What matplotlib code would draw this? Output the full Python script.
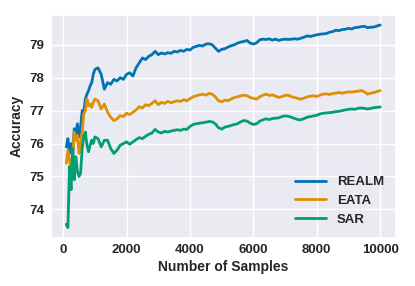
import matplotlib
matplotlib.use("Agg")
import matplotlib.pyplot as plt
import seaborn as sns

# sample counts: finer steps early on where the curves move fast
samples = list(range(100, 1001, 50)) + list(range(1100, 10001, 100))

realm = [75.9, 76.15, 75.7, 76.0, 75.6, 76.45, 76.3, 76.6, 76.2, 76.5,
         77.0, 76.95, 77.35, 77.5, 77.6, 77.75, 77.85, 78.1, 78.25,
         78.3, 78.1, 77.65, 77.85, 77.8, 77.95, 77.9, 78.0, 77.95, 78.1,
         78.15, 78.05, 78.3, 78.45, 78.6, 78.55, 78.65, 78.7, 78.8, 78.7,
         78.75, 78.72, 78.76, 78.74, 78.8, 78.78, 78.83, 78.8, 78.86, 78.84,
         78.92, 78.95, 78.98, 78.96, 79.02, 79.03, 79.0, 78.9, 78.8, 78.86,
         78.88, 78.93, 78.97, 79.0, 79.05, 79.08, 79.1, 79.13, 79.05, 79.02,
         79.06, 79.15, 79.17, 79.16, 79.18, 79.14, 79.17, 79.13, 79.16, 79.17,
         79.16, 79.17, 79.18, 79.17, 79.2, 79.23, 79.27, 79.25, 79.28, 79.3,
         79.32, 79.33, 79.34, 79.38, 79.4, 79.44, 79.43, 79.46, 79.47, 79.5,
         79.48, 79.52, 79.53, 79.55, 79.56, 79.52, 79.53, 79.54, 79.57, 79.6]

eata = [75.4, 75.8, 75.5, 75.2, 75.65, 76.35, 76.1, 76.25, 75.7, 76.0,
        76.35, 76.9, 77.0, 77.35, 77.15, 77.2, 77.1, 77.25, 77.35,
        77.3, 77.05, 77.2, 76.95, 76.8, 76.7, 76.75, 76.85, 76.82, 76.92,
        76.88, 76.95, 77.02, 77.12, 77.08, 77.18, 77.15, 77.22, 77.3, 77.18,
        77.25, 77.22, 77.28, 77.24, 77.27, 77.3, 77.28, 77.33, 77.3, 77.36,
        77.42, 77.45, 77.48, 77.5, 77.47, 77.52, 77.5, 77.42, 77.3, 77.27,
        77.32, 77.3, 77.35, 77.4, 77.42, 77.45, 77.47, 77.45, 77.4, 77.37,
        77.35, 77.42, 77.47, 77.5, 77.46, 77.48, 77.44, 77.4, 77.43, 77.46,
        77.47, 77.42, 77.4, 77.37, 77.35, 77.38, 77.42, 77.44, 77.45, 77.43,
        77.47, 77.5, 77.51, 77.49, 77.52, 77.53, 77.55, 77.53, 77.55, 77.57,
        77.56, 77.58, 77.59, 77.61, 77.57, 77.5, 77.53, 77.55, 77.58, 77.61]

sar = [73.55, 73.45, 75.3, 74.6, 75.85, 74.9, 75.6, 75.15, 75.0, 75.1,
       75.85, 76.2, 76.35, 75.95, 75.75, 75.95, 76.1, 76.0, 76.2,
       76.15, 75.9, 76.1, 76.1, 75.85, 75.7, 75.8, 75.95, 76.0, 76.05,
       75.98, 76.05, 76.12, 76.18, 76.15, 76.22, 76.28, 76.32, 76.43, 76.35,
       76.32, 76.37, 76.35, 76.38, 76.4, 76.42, 76.4, 76.44, 76.43, 76.52,
       76.58, 76.6, 76.62, 76.63, 76.65, 76.67, 76.66, 76.6, 76.48, 76.44,
       76.5, 76.52, 76.55, 76.58, 76.6, 76.66, 76.7, 76.68, 76.62, 76.58,
       76.6, 76.68, 76.72, 76.75, 76.73, 76.76, 76.77, 76.78, 76.82, 76.84,
       76.83, 76.8, 76.76, 76.73, 76.72, 76.76, 76.8, 76.82, 76.84, 76.86,
       76.9, 76.92, 76.93, 76.94, 76.95, 76.97, 76.98, 77.0, 77.02, 77.04,
       77.05, 77.04, 77.07, 77.08, 77.07, 77.05, 77.07, 77.09, 77.1, 77.11]

sns.set_theme(style="darkgrid")
plt.rcParams["font.family"] = ["Liberation Sans", "DejaVu Sans"]
plt.rcParams["font.weight"] = "bold"
plt.rcParams["axes.labelweight"] = "bold"

colors = sns.color_palette("colorblind")

fig = plt.figure(figsize=(4.15, 2.86), dpi=100)
ax = fig.add_axes([0.122, 0.169, 0.832, 0.779])

ax.plot(samples, realm, color=colors[0], lw=2, label="REALM")
ax.plot(samples, eata, color=colors[1], lw=2, label="EATA")
ax.plot(samples, sar, color=colors[2], lw=2, label="SAR")

ax.set_xlabel("Number of Samples", fontsize=10, labelpad=3)
ax.set_ylabel("Accuracy", fontsize=10, labelpad=4)
ax.set_xticks([0, 2000, 4000, 6000, 8000, 10000])
ax.set_yticks([74, 75, 76, 77, 78, 79])
ax.tick_params(labelsize=9.5, length=0, pad=4.5)
for lab in ax.get_xticklabels() + ax.get_yticklabels():
    lab.set_fontweight("bold")

ax.legend(loc="lower right", frameon=False, fontsize=9.5, handlelength=2.4)

fig.savefig("out.png", dpi=100)
